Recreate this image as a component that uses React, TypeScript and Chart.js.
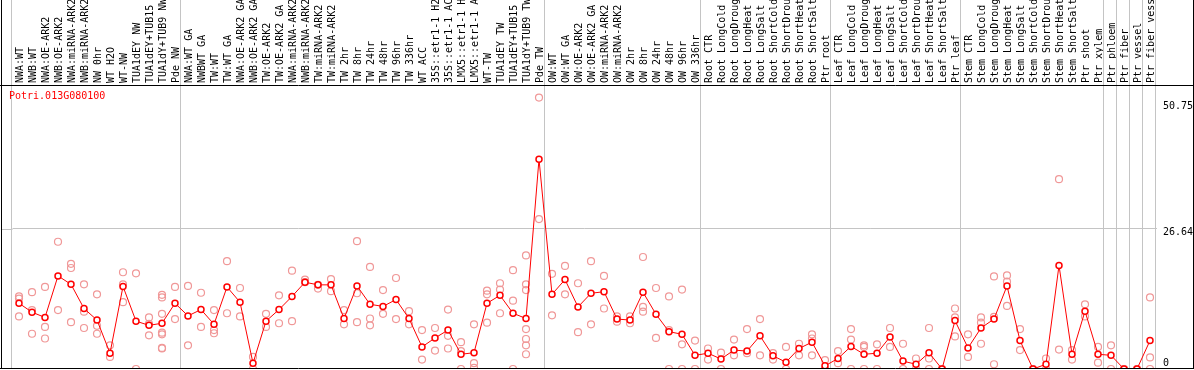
import React, { useEffect, useRef } from "react";
import { Chart, registerables } from "chart.js";

Chart.register(...registerables);

const geneTitle = "Potri.013G080100";

const categories: string[] = [
  "NWA:WT", "NWB:WT", "NWA:OE-ARK2", "NWB:OE-ARK2", "NWA:miRNA-ARK2", "NWB:miRNA-ARK2",
  "NW 0hr", "WT H2O", "WT-NW", "TUA1dEY NW", "TUA1dEY+TUB15 NW", "TUA1dY+TUB9 NW", "Pde NW",
  "NWA:WT GA", "NWBWT GA", "TW:WT", "TW:WT GA", "NWA:OE-ARK2 GA", "NWB:OE-ARK2 GA",
  "TW:OE-ARK2", "TW:OE-ARK2 GA", "NWA:miRNA-ARK2 GA", "NWB:miRNA-ARK2 GA", "TW:miRNA-ARK2",
  "TW:miRNA-ARK2 GA", "TW 2hr", "TW 8hr", "TW 24hr", "TW 48hr", "TW 96hr", "TW 336hr",
  "WT ACC", "35S::etr1-1 H2O", "35S::etr1-1 ACC", "LMX5::etr1-1 H2O", "LMX5::etr1-1 ACC",
  "WT-TW", "TUA1dEY TW", "TUA1dEY+TUB15 TW", "TUA1dY+TUB9 TW", "Pde TW",
  "OW:WT", "OW:WT GA", "OW:OE-ARK2", "OW:OE-ARK2 GA", "OW:miRNA-ARK2", "OW:miRNA-ARK2 GA",
  "OW 2hr", "OW 8hr", "OW 24hr", "OW 48hr", "OW 96hr", "OW 336hr",
  "Root CTR", "Root LongCold", "Root LongDrought", "Root LongHeat", "Root LongSalt",
  "Root ShortCold", "Root ShortDrought", "Root ShortHeat", "Root ShortSalt", "Ptr root",
  "Leaf CTR", "Leaf LongCold", "Leaf LongDrought", "Leaf LongHeat", "Leaf LongSalt",
  "Leaf ShortCold", "Leaf ShortDrought", "Leaf ShortHeat", "Leaf ShortSalt", "Ptr leaf",
  "Stem CTR", "Stem LongCold", "Stem LongDrought", "Stem LongHeat", "Stem LongSalt",
  "Stem ShortCold", "Stem ShortDrought", "Stem ShortHeat", "Stem ShortSalt", "Ptr shoot",
  "Ptr xylem", "Ptr phloem", "Ptr fiber", "Ptr vessel", "Ptr fiber vessel",
];

const meanValues: number[] = [
  12.5, 10.8, 9.8, 17.7, 16.1, 11.5, 9.3, 3.0, 15.7, 9.1, 8.3, 8.7, 12.5,
  10.1, 11.3, 8.5, 15.6, 12.7, 1.1, 9.1, 11.3, 13.8, 16.5, 16.0, 16.0, 9.6, 15.8, 12.3,
  11.9, 13.2, 9.6, 4.2, 5.9, 7.4, 2.8, 3.1, 12.5, 14.0, 10.6, 9.6, 39.9,
  14.2, 17.0, 11.8, 14.4, 14.7, 9.5, 9.3, 14.6, 10.4, 7.1, 6.6, 2.6,
  3.0, 1.9, 3.6, 3.4, 6.3, 2.5, 1.3, 3.9, 5.1, 0.6,
  2.0, 4.3, 2.8, 3.0, 6.1, 1.5, 0.9, 3.1, 0, 9.2,
  4.0, 7.8, 9.5, 15.8, 5.4, 0, 0.9, 19.7, 2.8, 11.0,
  2.8, 2.6, 0, 0, 5.4,
];

const replicateValues: number[][] = [
  [13.8, 13.4, 10.0], [14.6, 11.2, 6.7], [15.6, 8.0, 5.8], [24.2, 11.2], [20.0, 19.2, 8.9],
  [16.1, 10.9, 7.8], [14.2, 8.2, 6.7], [4.5, 2.3], [18.4, 16.1, 12.7], [18.2, 0],
  [9.8, 8.6, 6.4], [14.1, 13.6, 10.5, 6.9, 6.6, 4.0, 3.9], [15.6, 9.5],
  [15.8, 4.5], [14.5, 8.0], [11.2, 7.4, 6.8], [20.5, 10.6], [15.4, 10.0], [2.3, 0],
  [10.5, 8.0], [14.0, 8.7], [18.7, 9.1], [17.0, 16.5], [16.0, 15.3], [17.1, 14.8],
  [11.2, 8.5], [24.3, 14.4, 8.9], [19.4, 9.6, 8.3], [15.0, 10.5], [17.3, 9.5], [11.0, 8.5],
  [7.4, 1.8], [7.8, 3.5], [11.3, 6.3, 3.9], [5.1, 3.4, 0], [8.5, 1.1, 0.2],
  [14.9, 14.2, 8.8], [16.3, 15.1, 10.6], [18.8, 13.0, 0], [21.6, 16.1, 15.0, 7.6, 5.7, 4.5, 2.8],
  [51.6, 28.5],
  [18.1, 10.2], [19.6, 14.2], [16.3, 7.0], [20.5, 8.5], [17.7, 11.5], [10.0, 9.0],
  [10.0, 8.7], [21.3, 11.8, 10.9], [15.4, 5.9], [13.8, 7.4, 0], [15.1, 4.7, 0], [5.4, 0],
  [3.9, 1.8], [3.1, 0], [5.6, 2.6], [7.6, 3.0], [9.5, 2.6], [3.0, 1.8], [4.2, 0],
  [4.8, 2.6], [6.6, 5.8, 2.6], [1.7, 0],
  [3.4, 1.1], [7.6, 5.6, 0], [4.5, 4.2, 0], [4.7, 0], [7.8, 4.2], [4.8, 0], [2.0, 0],
  [7.8, 2.0, 0], [0, 0], [11.5, 9.8, 6.2],
  [6.6, 2.3], [9.8, 8.8, 4.8], [17.6, 9.9, 0.9], [17.8, 16.6, 12.0], [7.6, 3.6], [0, 0],
  [2.0, 0], [36.1, 3.7], [3.6, 1.8], [12.3, 10.0],
  [4.2, 1.2], [4.5, 0], [0, 0], [0, 0], [13.6, 2.2, 0],
];

// indices of the last category of each group (-1 = before the first category)
const groupEnds: number[] = [-1, 12, 40, 52, 62, 72, 83, 84, 85, 86, 87];

const yTickValues: number[] = [0, 26.64, 50.75];
const yTickLabels: string[] = ["0", "26.64", "50.75"];
const yMax = 54;

const MONO = "'DejaVu Sans Mono', 'Liberation Mono', monospace";

const zeroPadding = (s: any) => {
  s.paddingTop = 0;
  s.paddingBottom = 0;
  s.paddingLeft = 0;
  s.paddingRight = 0;
};

export default function App() {
  const canvasRef = useRef<HTMLCanvasElement | null>(null);

  useEffect(() => {
    document.body.style.margin = "0";
    const canvas = canvasRef.current;
    if (!canvas) return;

    const replicatePoints: { x: string; y: number }[] = [];
    replicateValues.forEach((vals, i) => {
      vals.forEach((v) => replicatePoints.push({ x: categories[i], y: v }));
    });

    const framePlugin = {
      id: "frame",
      beforeDatasetsDraw(chart: any) {
        const ctx = chart.ctx;
        const xs = chart.scales.x;
        const ys = chart.scales.y;
        const area = chart.chartArea;
        ctx.save();
        ctx.strokeStyle = "#c4c4c4";
        ctx.lineWidth = 1;
        const step = xs.getPixelForValue(1) - xs.getPixelForValue(0);
        groupEnds.forEach((idx) => {
          const px = xs.getPixelForValue(0) + idx * step + 5;
          const x = Math.round(px) + 0.5;
          ctx.beginPath();
          ctx.moveTo(x, 0);
          ctx.lineTo(x, area.bottom);
          ctx.stroke();
        });
        const gy = Math.round(ys.getPixelForValue(yTickValues[1])) + 0.5;
        ctx.beginPath();
        ctx.moveTo(1, gy);
        ctx.lineTo(area.left, gy);
        ctx.stroke();
        ctx.restore();
      },
      afterDraw(chart: any) {
        const ctx = chart.ctx;
        const area = chart.chartArea;
        const W = chart.width;
        ctx.save();
        ctx.strokeStyle = "#000";
        ctx.lineWidth = 1;
        ctx.beginPath();
        ctx.moveTo(1.5, 0);
        ctx.lineTo(1.5, area.bottom);
        ctx.moveTo(W - 0.5, 0);
        ctx.lineTo(W - 0.5, area.bottom);
        ctx.moveTo(0, Math.round(area.top) + 0.5);
        ctx.lineTo(W, Math.round(area.top) + 0.5);
        ctx.moveTo(0, Math.round(area.bottom) - 0.5);
        ctx.lineTo(W, Math.round(area.bottom) - 0.5);
        ctx.stroke();
        ctx.fillStyle = "#ff0000";
        ctx.font = "10px " + MONO;
        ctx.textBaseline = "top";
        ctx.textAlign = "left";
        ctx.fillText(geneTitle, 9, area.top + 6);
        ctx.restore();
      },
    };

    const chart = new Chart(canvas, {
      type: "line",
      data: {
        labels: categories,
        datasets: [
          {
            label: "mean",
            data: meanValues,
            borderColor: "#ff0000",
            borderWidth: 1,
            pointRadius: 3,
            pointBorderWidth: 1.5,
            pointBorderColor: "#ff0000",
            pointBackgroundColor: "#ffffff",
            tension: 0,
          } as any,
          {
            label: "replicates",
            data: replicatePoints as any,
            showLine: false,
            pointRadius: 3.5,
            pointBorderWidth: 1.2,
            pointBorderColor: "#f09898",
            pointBackgroundColor: "rgba(0,0,0,0)",
          } as any,
        ],
      },
      options: {
        animation: false,
        responsive: false,
        devicePixelRatio: 1,
        layout: { autoPadding: false, padding: { left: 12.5, right: 0, top: 0, bottom: 1 } },
        plugins: {
          legend: { display: false },
          tooltip: { enabled: false },
        },
        scales: {
          x: {
            type: "category",
            position: "top",
            offset: true,
            grid: { display: false, drawTicks: false, tickLength: 0 },
            border: { display: false },
            ticks: {
              autoSkip: false,
              minRotation: 90,
              maxRotation: 90,
              padding: 2,
              labelOffset: 13,
              color: "#000",
              font: { family: MONO, size: 10 },
            },
            afterFit: (s: any) => {
              s.height = 85;
              zeroPadding(s);
            },
          },
          y: {
            position: "right",
            min: 0,
            max: yMax,
            border: { display: false },
            grid: {
              drawTicks: false,
              tickLength: 0,
              color: (c: any) =>
                c.tick && c.tick.value === yTickValues[1] ? "#c4c4c4" : "rgba(0,0,0,0)",
            },
            ticks: {
              autoSkip: false,
              padding: 6.5,
              labelOffset: -1,
              color: "#000",
              font: { family: MONO, size: 10, lineHeight: 1 },
              callback: (v: any) => {
                const k = yTickValues.indexOf(Number(v));
                const t = k >= 0 ? yTickLabels[k] : "";
                return k === 0 ? [t, ""] : ["", t];
              },
            },
            afterBuildTicks: (s: any) => {
              s.ticks = yTickValues.map((v) => ({ value: v }));
            },
            afterFit: (s: any) => {
              s.width = 37.5;
              zeroPadding(s);
            },
          },
        },
      },
      plugins: [framePlugin],
    });

    return () => chart.destroy();
  }, []);

  return (
    <div style={{ position: "absolute", left: 0, top: 0, width: 1194, height: 370 }}>
      <canvas ref={canvasRef} width={1194} height={370} style={{ display: "block", width: 1194, height: 370 }} />
    </div>
  );
}
